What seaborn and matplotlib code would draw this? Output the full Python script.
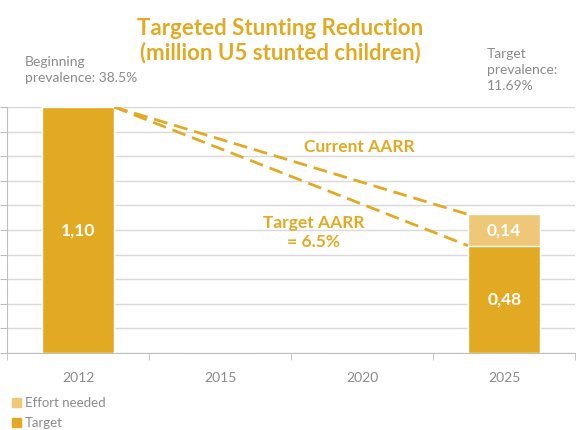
# ======================
# Import Libraries
# ======================

import numpy as np
import pandas as pd
import matplotlib.pyplot as plt
import seaborn as sns
from matplotlib.patches import Patch

# ======================
# Data
# ======================

years = ["2012", "2015", "2020", "2025"]
target = [1.10, 0.0, 0.0, 0.48]
effort = [0.0, 0.0, 0.0, 0.14]
target_labels = ["1,10", "", "", "0,48"]
effort_labels = ["", "", "", "0,14"]

start_value = 1.10
current_end = 0.62
target_end = 0.48

df = pd.DataFrame({"year": years, "target": target, "effort": effort})
df["total"] = df["target"] + df["effort"]

# ======================
# Style
# ======================

sns.set_style("white")
plt.rcParams["font.family"] = ["Lato", "DejaVu Sans"]

dark = "#E2AA23"
light = "#EEC878"
grey_text = "#8C8C8C"

fig = plt.figure(figsize=(5.87, 4.30), dpi=100)
ax = fig.add_axes([0.012, 0.179, 0.968, 0.572])

# ======================
# Stacked bars
# ======================

bw = 0.51
sns.barplot(data=df, x="year", y="total", color=light, width=bw,
            saturation=1, ax=ax, zorder=3)
sns.barplot(data=df, x="year", y="target", color=dark, width=bw,
            saturation=1, ax=ax, zorder=3)

for i in range(len(years)):
    if target_labels[i]:
        ax.text(i, target[i] / 2, target_labels[i], ha="center", va="center",
                color="white", fontsize=12.5, fontweight="bold", zorder=5)
    if effort_labels[i]:
        ax.text(i, target[i] + effort[i] / 2, effort_labels[i], ha="center",
                va="center", color="white", fontsize=12.5, fontweight="bold",
                zorder=5)

# ======================
# AARR lines
# ======================

x0 = 0 + bw / 2
x1 = 3 - bw / 2
ax.plot([x0, x1], [start_value, current_end], color=dark, lw=2,
        ls=(0, (5, 2.5)), zorder=4)
ax.plot([x0, x1], [start_value, target_end], color=dark, lw=2,
        ls=(0, (5, 2.5)), zorder=4)

ax.text(1.98, 0.92, "Current AARR", ha="center", va="center", color=dark,
        fontsize=12.5, fontweight="bold")
ax.text(1.66, 0.54, "Target AARR\n= 6.5%", ha="center", va="center",
        color=dark, fontsize=12.5, fontweight="bold", linespacing=1.2)

# ======================
# Axes
# ======================

ax.set_xlim(-0.5, 3.5)
ax.set_ylim(0, 1.10)
ax.set_yticks(np.linspace(0, 1.10, 11))
ax.set_yticklabels([])
ax.grid(axis="y", color="#D9D9D9", lw=1, zorder=0)
ax.set_xlabel("")
ax.set_ylabel("")

ax.set_xticks([-0.5, 0.5, 1.5, 2.5, 3.5], minor=True)
ax.tick_params(axis="x", which="major", length=0, labelsize=10,
               labelcolor=grey_text, pad=14)
ax.tick_params(axis="x", which="minor", length=5, color="#BFBFBF",
               direction="out", bottom=True)
ax.tick_params(axis="y", length=5, color="#BFBFBF", direction="out",
               left=True)

for side in ["top", "right"]:
    ax.spines[side].set_visible(False)
for side in ["left", "bottom"]:
    ax.spines[side].set_color("#BFBFBF")

# ======================
# Titles and notes
# ======================

fig.text(0.478, 0.905, "Targeted Stunting Reduction\n(million U5 stunted children)",
         ha="center", va="center", color=dark, fontsize=16,
         fontweight="bold", linespacing=1.15)
fig.text(0.043, 0.837, "Beginning\nprevalence: 38.5%", ha="left", va="center",
         color=grey_text, fontsize=10, linespacing=1.4)
fig.text(0.83, 0.837, "Target\nprevalence:\n11.69%", ha="left", va="center",
         color=grey_text, fontsize=10, linespacing=1.4)

# ======================
# Legend
# ======================

handles = [Patch(color=light, label="Effort needed"),
           Patch(color=dark, label="Target")]
fig.legend(handles=handles, loc="lower left", bbox_to_anchor=(0.0, -0.025),
           frameon=False, fontsize=9.5, labelcolor=grey_text,
           handlelength=0.7, handleheight=0.7, handletextpad=0.3,
           labelspacing=0.6)

plt.savefig("out.png", dpi=100)
